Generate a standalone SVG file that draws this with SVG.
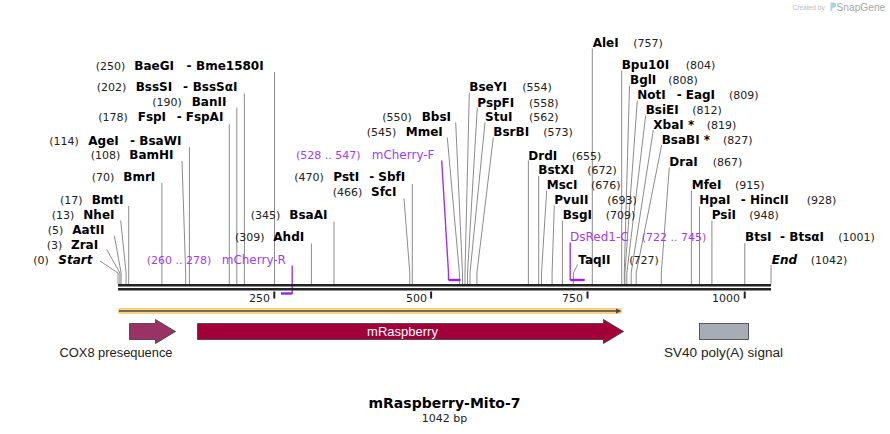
<svg xmlns="http://www.w3.org/2000/svg" width="890" height="434" viewBox="0 0 890 434">
<style>
.nm{font-family:"DejaVu Sans",Verdana,sans-serif;font-weight:bold;font-size:12px;fill:#000}
.it{font-style:italic}
.num{font-family:"DejaVu Sans",Verdana,sans-serif;font-size:11px;fill:#222}
.pr{font-family:"DejaVu Sans",Verdana,sans-serif;font-size:12px;fill:#a23cf4}
.prn{font-family:"DejaVu Sans",Verdana,sans-serif;font-size:11px;fill:#a23cf4}
.site{stroke:#8c8c8c;stroke-width:1;fill:none}
.pl{stroke:#a030f0;stroke-width:1.4;fill:none}
.pb{stroke:#9a1ff0;stroke-width:2.4;fill:none}
.tick{fill:#222}
.tl{font-family:"DejaVu Sans",Verdana,sans-serif;font-size:11px;fill:#222;text-anchor:end}
.fl{font-family:"Liberation Sans",Arial,sans-serif;font-size:12px;fill:#222;text-anchor:middle}
.feat{stroke:#3a3a3a;stroke-width:0.8}
</style>

<!-- watermark -->
<g id="watermark">
<text x="792.5" y="9.5" font-family="Liberation Sans, Arial, sans-serif" font-size="6.6" fill="#bdbdbd">Created by</text>
<path d="M830.5,2.5 h3 a2.6,2.6 0 0 1 0,5.2 h-1.2 v3.3 h-1.8 z" fill="#a9d3ef"/>
<text x="836.5" y="10.5" font-family="Liberation Sans, Arial, sans-serif" font-size="10.2" fill="#a8a8a8">SnapGene</text>
</g>

<!-- connectors -->
<g id="connectors">
<path class="site" d="M100,261 L118,273 V284"/>
<path class="site" d="M106.7,249.5 L119.9,273 V284"/>
<path class="site" d="M114.3,235.5 L121.1,273 V284"/>
<path class="site" d="M120.7,220.5 L126.1,273 V284"/>
<path class="site" d="M128.7,206 V284"/>
<path class="site" d="M161.9,183 V284"/>
<path class="site" d="M182,161 L185.7,273 V284"/>
<path class="site" d="M189.4,147 V284"/>
<path class="site" d="M229.3,124 V284"/>
<path class="site" d="M236.8,107.5 V284"/>
<path class="site" d="M244.4,93.5 V284"/>
<path class="site" d="M274.5,72 V284"/>
<path class="site" d="M311.4,243.5 V284"/>
<path class="site" d="M334,221.5 V284"/>
<path class="site" d="M404,198.5 L409.8,273 V284"/>
<path class="site" d="M412.3,184 V284"/>
<path class="site" d="M447.3,137.5 L459.4,273 V284"/>
<path class="site" d="M455.7,122.5 L462.5,273 V284"/>
<path class="site" d="M469.3,92.5 L465,273 V284"/>
<path class="site" d="M477.3,107.5 L467.5,273 V284"/>
<path class="site" d="M485,122.5 L470,273 V284"/>
<path class="site" d="M493.3,137.5 L476.9,273 V284"/>
<path class="site" d="M528.4,160.5 V284"/>
<path class="site" d="M538.7,176 V284"/>
<path class="site" d="M546.7,190.5 L541.5,273 V284"/>
<path class="site" d="M554.3,205.5 L552.1,273 V284"/>
<path class="site" d="M562.4,220.5 V284"/>
<path class="site" d="M577.7,264.5 L573.4,273 V284"/>
<path class="site" d="M592.3,48.5 V284"/>
<path class="site" d="M621.7,70.5 V284"/>
<path class="site" d="M629.5,85.5 L624.3,273 V284"/>
<path class="site" d="M637.3,100.5 L624.9,273 V284"/>
<path class="site" d="M645.7,115.5 L626.8,273 V284"/>
<path class="site" d="M653.3,130 L631.2,273 V284"/>
<path class="site" d="M661.7,145 L636.2,273 V284"/>
<path class="site" d="M669.3,167.5 L661.3,273 V284"/>
<path class="site" d="M691.4,190.5 V284"/>
<path class="site" d="M699.5,206.5 V284"/>
<path class="site" d="M711.9,220.5 V284"/>
<path class="site" d="M744.8,243 V284"/>
<path class="site" d="M771,265 V284"/>
<!-- primers -->
<path class="pl" d="M441.7,160.5 L448.5,273 V280"/>
<path class="pb" d="M448.5,280 H460.4"/>
<path class="pl" d="M570.2,242.5 V280"/>
<path class="pb" d="M570.2,280 H584.7"/>
<path class="pl" d="M292.2,265.5 V294"/>
<path class="pb" d="M281,293.5 H292.2"/>
</g>

<!-- sequence backbone -->
<g id="backbone">
<rect x="118" y="284" width="653" height="2.5" fill="#222"/>
<rect x="118" y="288" width="653" height="2.5" fill="#222"/>
<rect class="tick" x="273.3" y="291.5" width="2" height="7"/>
<rect class="tick" x="430.1" y="291.5" width="2" height="7"/>
<rect class="tick" x="586.5" y="291.5" width="2" height="7"/>
<rect class="tick" x="743.7" y="291.5" width="2" height="7"/>
<text class="tl" x="270" y="302">250</text>
<text class="tl" x="427" y="302">500</text>
<text class="tl" x="583" y="302">750</text>
<text class="tl" x="740" y="302">1000</text>
</g>

<!-- enzyme labels, left -->
<g id="BaeGI"><text class="num" x="95.7" y="69.5">(250)</text><text class="nm" x="134.3" y="69.5">BaeGI</text><text class="nm" x="186.5" y="69.5">-</text><text class="nm" x="196" y="69.5">Bme1580I</text></g>
<g id="BssSI"><text class="num" x="96.7" y="91">(202)</text><text class="nm" x="135.7" y="91">BssSI</text><text class="nm" x="183" y="91">-</text><text class="nm" x="192.7" y="91">BssSαI</text></g>
<g id="BanII"><text class="num" x="152.3" y="106">(190)</text><text class="nm" x="191.7" y="106">BanII</text></g>
<g id="FspI"><text class="num" x="98.3" y="121">(178)</text><text class="nm" x="137.7" y="121">FspI</text><text class="nm" x="176.7" y="121">-</text><text class="nm" x="185.7" y="121">FspAI</text></g>
<g id="AgeI"><text class="num" x="49.3" y="144.5">(114)</text><text class="nm" x="88.3" y="144.5">AgeI</text><text class="nm" x="130" y="144.5">-</text><text class="nm" x="139.3" y="144.5">BsaWI</text></g>
<g id="BamHI"><text class="num" x="90.7" y="159">(108)</text><text class="nm" x="129.3" y="159">BamHI</text></g>
<g id="BmrI"><text class="num" x="91.7" y="181">(70)</text><text class="nm" x="123.3" y="181">BmrI</text></g>
<g id="BmtI"><text class="num" x="60" y="204">(17)</text><text class="nm" x="91.7" y="204">BmtI</text></g>
<g id="NheI"><text class="num" x="51.7" y="218.5">(13)</text><text class="nm" x="83.3" y="218.5">NheI</text></g>
<g id="AatII"><text class="num" x="47.7" y="234">(5)</text><text class="nm" x="72.3" y="234">AatII</text></g>
<g id="ZraI"><text class="num" x="46.7" y="249">(3)</text><text class="nm" x="71" y="249">ZraI</text></g>
<g id="Start"><text class="num" x="33.3" y="263.5">(0)</text><text class="nm it" x="58.3" y="263.5">Start</text></g>
<g id="AhdI"><text class="num" x="235" y="241">(309)</text><text class="nm" x="273.3" y="241">AhdI</text></g>
<g id="BsaAI"><text class="num" x="250.7" y="218.5">(345)</text><text class="nm" x="289.3" y="218.5">BsaAI</text></g>
<g id="mCherry-R"><text class="prn" x="146.7" y="264">(260 .. 278)</text><text class="pr" x="221.7" y="264">mCherry-R</text></g>
<g id="SfcI"><text class="num" x="332.7" y="196">(466)</text><text class="nm" x="371" y="196">SfcI</text></g>
<g id="PstI"><text class="num" x="294.3" y="180.5">(470)</text><text class="nm" x="333.3" y="180.5">PstI</text><text class="nm" x="369.3" y="180.5">-</text><text class="nm" x="378.3" y="180.5">SbfI</text></g>
<g id="mCherry-F"><text class="prn" x="296" y="159">(528 .. 547)</text><text class="pr" x="371.7" y="159">mCherry-F</text></g>
<g id="MmeI"><text class="num" x="366.7" y="136">(545)</text><text class="nm" x="405.7" y="136">MmeI</text></g>
<g id="BbsI"><text class="num" x="382.3" y="121">(550)</text><text class="nm" x="421.7" y="121">BbsI</text></g>

<!-- enzyme labels, right -->
<g id="BseYI"><text class="nm" x="469.3" y="91">BseYI</text><text class="num" x="522.3" y="91">(554)</text></g>
<g id="PspFI"><text class="nm" x="477.3" y="106.5">PspFI</text><text class="num" x="529" y="106.5">(558)</text></g>
<g id="StuI"><text class="nm" x="485" y="121">StuI</text><text class="num" x="529" y="121">(562)</text></g>
<g id="BsrBI"><text class="nm" x="493.3" y="136">BsrBI</text><text class="num" x="543.3" y="136">(573)</text></g>
<g id="DrdI"><text class="nm" x="528.3" y="159.5">DrdI</text><text class="num" x="571.7" y="159.5">(655)</text></g>
<g id="BstXI"><text class="nm" x="538.3" y="174">BstXI</text><text class="num" x="587.3" y="174">(672)</text></g>
<g id="MscI"><text class="nm" x="546.7" y="189">MscI</text><text class="num" x="591" y="189">(676)</text></g>
<g id="PvuII"><text class="nm" x="554.3" y="204">PvuII</text><text class="num" x="607.3" y="204">(693)</text></g>
<g id="BsgI"><text class="nm" x="562.7" y="219">BsgI</text><text class="num" x="605.7" y="219">(709)</text></g>
<g id="DsRed1-C"><text class="pr" x="570" y="241">DsRed1-C</text><text class="prn" x="641.7" y="241">(722 .. 745)</text></g>
<g id="TaqII"><text class="nm" x="578.3" y="263.5">TaqII</text><text class="num" x="629.3" y="263.5">(727)</text></g>
<g id="AleI"><text class="nm" x="592.7" y="47">AleI</text><text class="num" x="633.3" y="47">(757)</text></g>
<g id="Bpu10I"><text class="nm" x="621.7" y="69">Bpu10I</text><text class="num" x="685.7" y="69">(804)</text></g>
<g id="BglI"><text class="nm" x="630" y="84">BglI</text><text class="num" x="668.3" y="84">(808)</text></g>
<g id="NotI"><text class="nm" x="637.3" y="99">NotI</text><text class="nm" x="676.7" y="99">-</text><text class="nm" x="685.7" y="99">EagI</text><text class="num" x="729" y="99">(809)</text></g>
<g id="BsiEI"><text class="nm" x="645.7" y="114">BsiEI</text><text class="num" x="692.3" y="114">(812)</text></g>
<g id="XbaI"><text class="nm" x="653.3" y="128.5">XbaI *</text><text class="num" x="706.7" y="128.5">(819)</text></g>
<g id="BsaBI"><text class="nm" x="661.7" y="143.5">BsaBI *</text><text class="num" x="723" y="143.5">(827)</text></g>
<g id="DraI"><text class="nm" x="669.3" y="166">DraI</text><text class="num" x="712.7" y="166">(867)</text></g>
<g id="MfeI"><text class="nm" x="691.7" y="189">MfeI</text><text class="num" x="735" y="189">(915)</text></g>
<g id="HpaI"><text class="nm" x="699.3" y="204">HpaI</text><text class="nm" x="740.7" y="204">-</text><text class="nm" x="750" y="204">HincII</text><text class="num" x="806.7" y="204">(928)</text></g>
<g id="PsiI"><text class="nm" x="711.7" y="219">PsiI</text><text class="num" x="749.3" y="219">(948)</text></g>
<g id="BtsI"><text class="nm" x="745" y="241">BtsI</text><text class="nm" x="780" y="241">-</text><text class="nm" x="789.3" y="241">BtsαI</text><text class="num" x="838.3" y="241">(1001)</text></g>
<g id="End"><text class="nm it" x="771.7" y="263.5">End</text><text class="num" x="810.7" y="263.5">(1042)</text></g>

<!-- ORF -->
<g id="orf">
<rect x="118" y="308" width="504" height="6" rx="2" fill="#fbcf80"/>
<line x1="119" y1="311" x2="617" y2="311" stroke="#4a4a4a" stroke-width="1.6"/>
<polygon points="616,308.6 621.5,311 616,313.4" fill="#4a4a4a"/>
</g>

<!-- features -->
<g id="COX8">
<polygon class="feat" points="129.5,323.5 155.5,323.5 155.5,319.5 175.5,331.5 155.5,343.5 155.5,339.5 129.5,339.5" fill="#993366"/>
<text class="fl" x="116" y="357" textLength="113" lengthAdjust="spacingAndGlyphs">COX8 presequence</text>
</g>
<g id="mRaspberry">
<polygon class="feat" points="197.5,323.5 603.5,323.5 603.5,319.5 623.5,331.5 603.5,343.5 603.5,339.5 197.5,339.5" fill="#a3003a"/>
<text x="402.5" y="336" font-family="Liberation Sans, Arial, sans-serif" font-size="13" fill="#fff" text-anchor="middle">mRaspberry</text>
</g>
<g id="SV40">
<rect class="feat" x="699.5" y="323.5" width="49" height="16" fill="#a7adb4"/>
<text class="fl" x="723.5" y="357" textLength="119" lengthAdjust="spacingAndGlyphs">SV40 poly(A) signal</text>
</g>

<!-- title -->
<g id="title">
<text x="444.5" y="408" font-family="DejaVu Sans, Verdana, sans-serif" font-weight="bold" font-size="14" fill="#000" text-anchor="middle">mRaspberry-Mito-7</text>
<text x="444.5" y="422" font-family="DejaVu Sans, Verdana, sans-serif" font-size="11" fill="#222" text-anchor="middle">1042 bp</text>
</g>
</svg>
